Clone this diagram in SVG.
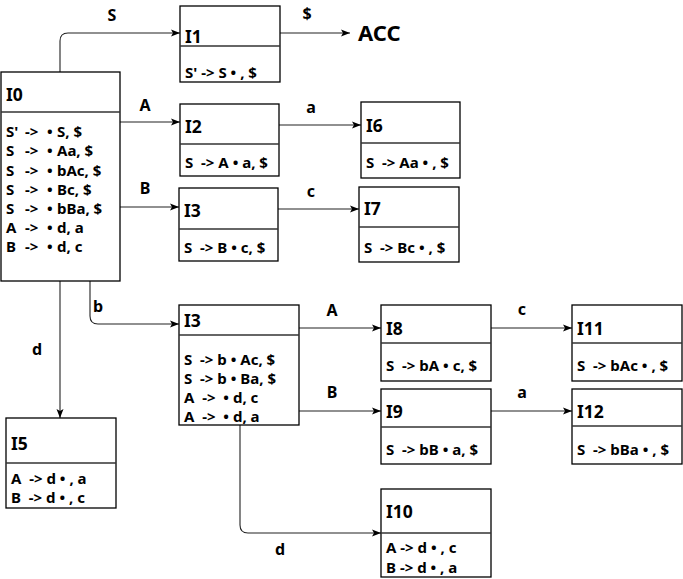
<svg xmlns="http://www.w3.org/2000/svg" width="683" height="579" viewBox="0 0 683 579">
<defs>
<marker id="arr" markerWidth="10" markerHeight="8" refX="9" refY="4" orient="auto" markerUnits="userSpaceOnUse">
<path d="M0,0.5 L9,4 L0,7.5 L2,4 z" fill="#000"/>
</marker>
</defs>
<style>
.box{fill:#fff;stroke:#000;stroke-width:1.3}
.div{stroke:#333;stroke-width:1.3}
.t{font-family:"Noto Sans","Liberation Sans",sans-serif;font-weight:bold;font-size:17.5px;fill:#000}
.i{font-family:"Noto Sans","Liberation Sans",sans-serif;font-weight:bold;font-size:15px;fill:#000;white-space:pre}
.l{font-family:"Noto Sans","Liberation Sans",sans-serif;font-weight:bold;font-size:16px;fill:#000;text-anchor:middle}
.e{fill:none;stroke:#222;stroke-width:1.1;marker-end:url(#arr)}
</style>
<rect width="683" height="579" fill="#fff"/>
<g id="connectors">
<path class="e" d="M60,72 V41 Q60,33 68,33 H180"/>
<path class="e" d="M280,33 H350"/>
<path class="e" d="M120,122 H180"/>
<path class="e" d="M120,207 H179"/>
<path class="e" d="M279,125 H361"/>
<path class="e" d="M278,209 H359"/>
<path class="e" d="M90,281 V316 Q90,324 98,324 H179"/>
<path class="e" d="M60,281 V418"/>
<path class="e" d="M299,328 H381"/>
<path class="e" d="M299,411 H381"/>
<path class="e" d="M240,425 V525 Q240,533 248,533 H381"/>
<path class="e" d="M491,328 H572"/>
<path class="e" d="M491,411 H572"/>
<text class="l" x="112" y="21">S</text>
<text class="l" x="307" y="19">$</text>
<text class="l" x="145" y="111">A</text>
<text class="l" x="145" y="194">B</text>
<text class="l" x="311" y="113">a</text>
<text class="l" x="311" y="197">c</text>
<text class="l" x="98" y="312">b</text>
<text class="l" x="37" y="355">d</text>
<text class="l" x="332" y="316">A</text>
<text class="l" x="332" y="398">B</text>
<text class="l" x="280" y="555">d</text>
<text class="l" x="522" y="315">c</text>
<text class="l" x="522" y="398">a</text>
<text x="358" y="41" style="font-family:'Noto Sans','Liberation Sans',sans-serif;font-weight:bold;font-size:22px">ACC</text>
</g>
<g id="I0">
<rect class="box" x="1" y="72" width="119" height="209"/>
<line class="div" x1="1" y1="112" x2="120" y2="112"/>
<text class="t" x="6" y="101">I0</text>
<text class="i" y="137"><tspan x="6">S'</tspan><tspan x="25">-&gt;</tspan><tspan x="47">•</tspan><tspan x="57">S, $</tspan></text>
<text class="i" y="156"><tspan x="6">S</tspan><tspan x="25">-&gt;</tspan><tspan x="47">•</tspan><tspan x="57">Aa, $</tspan></text>
<text class="i" y="175.5"><tspan x="6">S</tspan><tspan x="25">-&gt;</tspan><tspan x="47">•</tspan><tspan x="57">bAc, $</tspan></text>
<text class="i" y="194.5"><tspan x="6">S</tspan><tspan x="25">-&gt;</tspan><tspan x="47">•</tspan><tspan x="57">Bc, $</tspan></text>
<text class="i" y="214"><tspan x="6">S</tspan><tspan x="25">-&gt;</tspan><tspan x="47">•</tspan><tspan x="57">bBa, $</tspan></text>
<text class="i" y="233"><tspan x="6">A</tspan><tspan x="25">-&gt;</tspan><tspan x="47">•</tspan><tspan x="57">d, a</tspan></text>
<text class="i" y="252"><tspan x="6">B</tspan><tspan x="25">-&gt;</tspan><tspan x="47">•</tspan><tspan x="57">d, c</tspan></text>
</g>
<g id="I1">
<rect class="box" x="180" y="6" width="100" height="76"/>
<line class="div" x1="180" y1="46" x2="280" y2="46"/>
<text class="t" x="185" y="43">I1</text>
<text class="i" x="185" y="78">S' -&gt; S • , $</text>
</g>
<g id="I2">
<rect class="box" x="180" y="104" width="99" height="72"/>
<line class="div" x1="180" y1="144" x2="279" y2="144"/>
<text class="t" x="185" y="133">I2</text>
<text class="i" x="185" y="168">S  -&gt; A • a, $</text>
</g>
<g id="I3a">
<rect class="box" x="179" y="188" width="99" height="73"/>
<line class="div" x1="179" y1="229" x2="278" y2="229"/>
<text class="t" x="184" y="217">I3</text>
<text class="i" x="184" y="253">S  -&gt; B • c, $</text>
</g>
<g id="I6">
<rect class="box" x="361" y="102" width="99" height="76"/>
<line class="div" x1="361" y1="143" x2="460" y2="143"/>
<text class="t" x="366" y="132">I6</text>
<text class="i" x="366" y="168">S  -&gt; Aa • , $</text>
</g>
<g id="I7">
<rect class="box" x="359" y="187" width="100" height="75"/>
<line class="div" x1="359" y1="227" x2="459" y2="227"/>
<text class="t" x="364" y="215">I7</text>
<text class="i" x="364" y="253">S  -&gt; Bc • , $</text>
</g>
<g id="I5">
<rect class="box" x="6" y="418" width="110" height="90"/>
<line class="div" x1="6" y1="463" x2="116" y2="463"/>
<text class="t" x="11" y="450">I5</text>
<text class="i" x="11" y="484">A  -&gt; d • , a</text>
<text class="i" x="11" y="503">B  -&gt; d • , c</text>
</g>
<g id="I3b">
<rect class="box" x="179" y="305" width="120" height="120"/>
<line class="div" x1="179" y1="335" x2="299" y2="335"/>
<text class="t" x="184" y="327">I3</text>
<text class="i" x="184" y="365">S  -&gt; b • Ac, $</text>
<text class="i" x="184" y="384">S  -&gt; b • Ba, $</text>
<text class="i" x="184" y="403">A  -&gt;  • d, c</text>
<text class="i" x="184" y="422">A  -&gt;  • d, a</text>
</g>
<g id="I8">
<rect class="box" x="381" y="305" width="110" height="76"/>
<line class="div" x1="381" y1="343" x2="491" y2="343"/>
<text class="t" x="386" y="335">I8</text>
<text class="i" x="386" y="371">S  -&gt; bA • c, $</text>
</g>
<g id="I9">
<rect class="box" x="381" y="389" width="110" height="75"/>
<line class="div" x1="381" y1="427" x2="491" y2="427"/>
<text class="t" x="386" y="418">I9</text>
<text class="i" x="386" y="455">S  -&gt; bB • a, $</text>
</g>
<g id="I10">
<rect class="box" x="381" y="489" width="110" height="88"/>
<line class="div" x1="381" y1="533" x2="491" y2="533"/>
<text class="t" x="386" y="518">I10</text>
<text class="i" x="386" y="553">A -&gt; d • , c</text>
<text class="i" x="386" y="573">B -&gt; d • , a</text>
</g>
<g id="I11">
<rect class="box" x="572" y="305" width="110" height="76"/>
<line class="div" x1="572" y1="343" x2="682" y2="343"/>
<text class="t" x="577" y="335">I11</text>
<text class="i" x="577" y="371">S  -&gt; bAc • , $</text>
</g>
<g id="I12">
<rect class="box" x="572" y="389" width="110" height="75"/>
<line class="div" x1="572" y1="426" x2="682" y2="426"/>
<text class="t" x="577" y="418">I12</text>
<text class="i" x="577" y="455">S  -&gt; bBa • , $</text>
</g>
</svg>
